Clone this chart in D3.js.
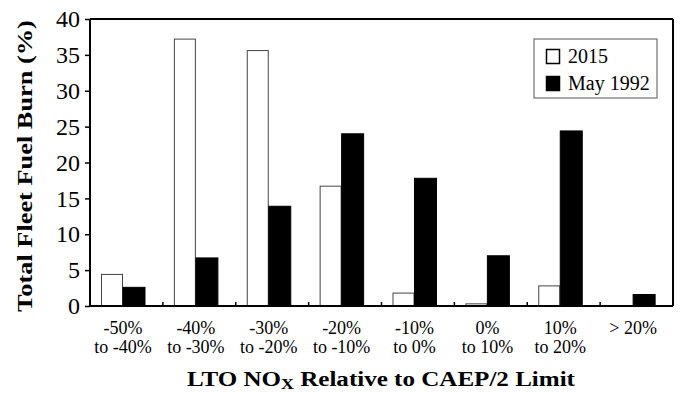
<!DOCTYPE html>
<html>
<head>
<meta charset="utf-8">
<script src="https://cdn.jsdelivr.net/npm/d3@7"></script>
<style>
  html, body { margin: 0; padding: 0; background: #fff; }
  svg { display: block; font-family: "Liberation Serif", "DejaVu Serif", serif; }
</style>
</head>
<body>
<svg id="chart" width="680" height="395"></svg>
<script>
const categoriesLine1 = ["-50%", "-40%", "-30%", "-20%", "-10%", "0%", "10%", "> 20%"];
const categoriesLine2 = ["to -40%", "to -30%", "to -20%", "to -10%", "to 0%", "to 10%", "to 20%", ""];
const series = ["2015", "May 1992"];
const values2015 = [4.4, 37.2, 35.6, 16.7, 1.8, 0.3, 2.8, 0];
const valuesMay1992 = [2.6, 6.7, 13.9, 24.0, 17.8, 7.0, 24.4, 1.6];
const yTicks = [0, 5, 10, 15, 20, 25, 30, 35, 40];

const svg = d3.select("#chart");
const pLeft = 90, pRight = 673, pTop = 19, pBottom = 306;

const x = d3.scaleBand().domain(d3.range(categoriesLine1.length)).range([pLeft, pRight]).padding(0);
const x1 = d3.scaleBand().domain(series).range([11, 55]).padding(0);
const y = d3.scaleLinear().domain([0, 40]).range([pBottom, pTop]);

const data = categoriesLine1.map((c, i) => ({ i, v: [values2015[i], valuesMay1992[i]] }));

// bars
const g = svg.append("g");
const groups = g.selectAll("g.cat").data(data).join("g")
  .attr("transform", d => `translate(${x(d.i)},0)`);
groups.selectAll("rect").data(d => series.map((s, k) => ({ s, v: d.v[k] })).filter(e => e.v > 0)).join("rect")
  .attr("x", d => x1(d.s) + (d.s === "2015" ? 0.5 : 0))
  .attr("width", d => x1.bandwidth() - (d.s === "2015" ? 1 : 0))
  .attr("y", d => y(d.v))
  .attr("height", d => pBottom - y(d.v))
  .attr("fill", d => d.s === "2015" ? "#fff" : "#000")
  .attr("stroke", d => d.s === "2015" ? "#444" : "#000")
  .attr("stroke-width", 1);

// frame top and right
svg.append("line").attr("x1", pLeft).attr("x2", pRight).attr("y1", pTop).attr("y2", pTop)
  .attr("stroke", "#000").attr("stroke-width", 2);
svg.append("line").attr("x1", pRight).attr("x2", pRight).attr("y1", pTop).attr("y2", pBottom)
  .attr("stroke", "#000").attr("stroke-width", 2);

// y axis
const yAxis = d3.axisLeft(y).tickValues(yTicks).tickSize(5).tickPadding(5);
const ya = svg.append("g").attr("transform", `translate(${pLeft},0)`).call(yAxis);
ya.select(".domain").attr("stroke-width", 2).attr("d", `M0,${pTop}V${pBottom}`);
ya.selectAll(".tick line").attr("stroke-width", 1.5);
ya.selectAll(".tick text").attr("font-size", 24).attr("font-family", "Liberation Serif").attr("fill", "#000");

// x axis baseline and inner ticks
const xa = svg.append("g");
xa.append("line").attr("x1", pLeft).attr("x2", pRight).attr("y1", pBottom).attr("y2", pBottom)
  .attr("stroke", "#000").attr("stroke-width", 2);
xa.selectAll("line.tk").data(d3.range(1, categoriesLine1.length)).join("line")
  .attr("x1", d => x(d)).attr("x2", d => x(d))
  .attr("y1", pBottom).attr("y2", pBottom - 4)
  .attr("stroke", "#000").attr("stroke-width", 1.5);

const labelX = i => x(i) + 33;
xa.selectAll("text.l1").data(categoriesLine1).join("text")
  .attr("x", (d, i) => labelX(i)).attr("y", 334)
  .attr("text-anchor", "middle").attr("font-size", 18).text(d => d);
xa.selectAll("text.l2").data(categoriesLine2).join("text")
  .attr("x", (d, i) => labelX(i)).attr("y", 353)
  .attr("text-anchor", "middle").attr("font-size", 18).text(d => d);

// axis titles (stretched to the reference's wide lettering)
const xtG = svg.append("g");
const xt = xtG.append("text").attr("x", 0).attr("y", 0).attr("text-anchor", "middle")
  .attr("font-size", 21).attr("font-weight", "bold");
xt.append("tspan").text("LTO NO");
xt.append("tspan").attr("font-size", 15).attr("dy", 3).text("X");
xt.append("tspan").attr("dy", -3).text(" Relative to CAEP/2 Limit");
const xtLen = xt.node().getBBox().width;
xtG.attr("transform", `translate(381,386) scale(${388 / xtLen},1)`);

const ytG = svg.append("g");
const yt = ytG.append("text").attr("text-anchor", "middle").attr("font-size", 22).attr("font-weight", "bold")
  .text("Total Fleet Fuel Burn (%)");
const ytLen = yt.node().getBBox().width;
ytG.attr("transform", `translate(32,166) rotate(-90) scale(${292 / ytLen},1)`);

// legend
const lg = svg.append("g");
lg.append("rect").attr("x", 534).attr("y", 39).attr("width", 123).attr("height", 59)
  .attr("fill", "#fff").attr("stroke", "#555").attr("stroke-width", 1);
const items = lg.selectAll("g.item").data(series).join("g")
  .attr("transform", (d, i) => `translate(546,${49 + i * 27})`);
items.append("rect").attr("x", 0.5).attr("y", 0.5).attr("width", 13).attr("height", 14)
  .attr("fill", (d, i) => i === 0 ? "#fff" : "#000").attr("stroke", "#000").attr("stroke-width", 1.5);
items.append("text").attr("x", 22).attr("y", 14).attr("font-size", 20).text(d => d);
</script>
</body>
</html>
